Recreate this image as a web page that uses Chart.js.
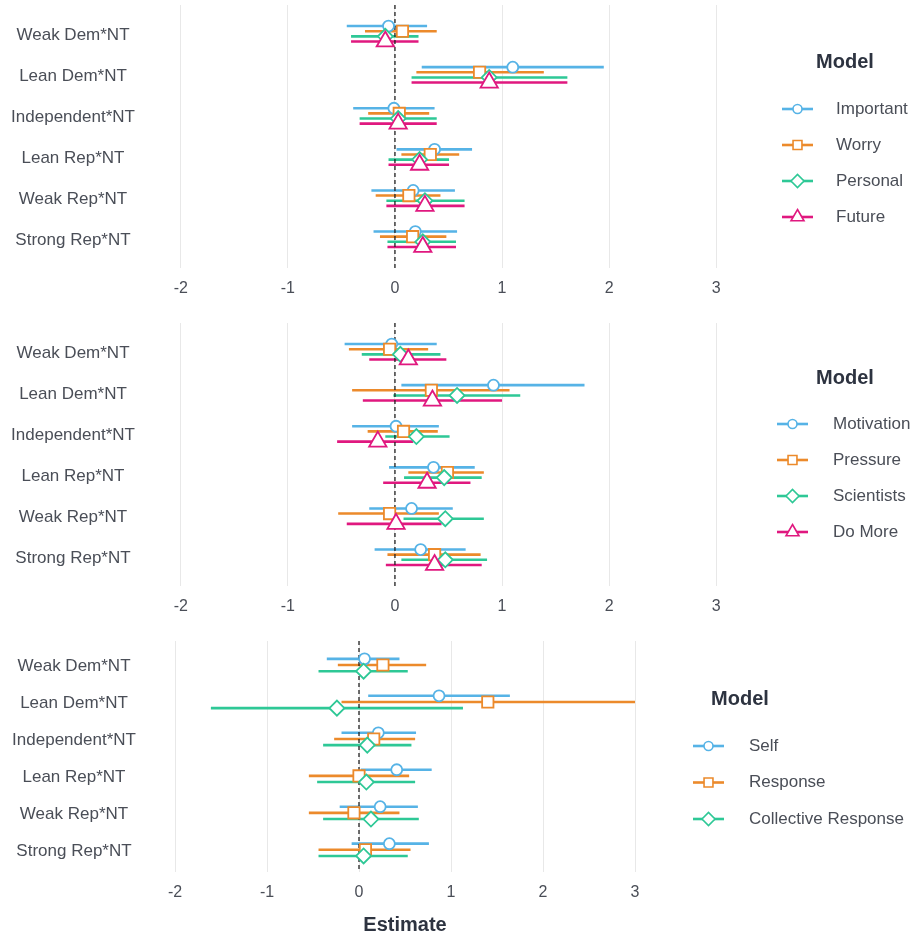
<!DOCTYPE html>
<html>
<head>
<meta charset="utf-8">
<title>Interaction estimates</title>
<script src="https://cdn.jsdelivr.net/npm/chart.js@4.4.1/dist/chart.umd.min.js"></script>
<style>
  body { margin: 0; background: #fff; }
  canvas { position: absolute; left: 0; }
</style>
</head>
<body>
<canvas id="panel1" width="912" height="310" style="top:0px"></canvas>
<canvas id="panel2" width="912" height="310" style="top:318px"></canvas>
<canvas id="panel3" width="912" height="305" style="top:632px"></canvas>
<script>
const rowLabels = ['Weak Dem*NT', 'Lean Dem*NT', 'Independent*NT', 'Lean Rep*NT', 'Weak Rep*NT', 'Strong Rep*NT'];
const xTicks = [-2, -1, 0, 1, 2, 3];

// each row: [estimate, lower, upper]
const important = [[-0.06, -0.45, 0.30], [1.10, 0.25, 1.95], [-0.01, -0.39, 0.37], [0.37, 0.015, 0.72], [0.17, -0.22, 0.56], [0.19, -0.20, 0.58]];
const worry = [[0.07, -0.28, 0.39], [0.79, 0.20, 1.39], [0.04, -0.25, 0.32], [0.33, 0.06, 0.60], [0.13, -0.18, 0.425], [0.165, -0.14, 0.48]];
const personal = [[-0.09, -0.41, 0.22], [0.88, 0.155, 1.61], [0.03, -0.33, 0.39], [0.23, -0.06, 0.505], [0.28, -0.08, 0.65], [0.26, -0.07, 0.57]];
const future = [[-0.09, -0.41, 0.22], [0.88, 0.155, 1.61], [0.03, -0.33, 0.39], [0.23, -0.06, 0.505], [0.28, -0.08, 0.65], [0.26, -0.07, 0.57]];

const motivation = [[-0.03, -0.47, 0.39], [0.92, 0.06, 1.77], [0.01, -0.40, 0.41], [0.36, -0.055, 0.745], [0.155, -0.24, 0.54], [0.24, -0.19, 0.66]];
const pressure = [[-0.05, -0.43, 0.31], [0.34, -0.40, 1.07], [0.08, -0.255, 0.40], [0.49, 0.125, 0.83], [-0.05, -0.53, 0.41], [0.37, -0.07, 0.80]];
const scientists = [[0.05, -0.31, 0.425], [0.58, -0.015, 1.17], [0.20, -0.09, 0.51], [0.46, 0.085, 0.81], [0.47, 0.08, 0.83], [0.47, 0.06, 0.86]];
const doMore = [[0.125, -0.24, 0.48], [0.35, -0.30, 1.00], [-0.16, -0.54, 0.17], [0.30, -0.11, 0.705], [0.01, -0.45, 0.435], [0.37, -0.085, 0.81]];

const self = [[0.06, -0.35, 0.44], [0.87, 0.10, 1.64], [0.21, -0.19, 0.62], [0.41, 0.02, 0.79], [0.23, -0.21, 0.64], [0.33, -0.08, 0.76]];
const response = [[0.26, -0.23, 0.73], [1.40, -0.19, 3.00], [0.16, -0.27, 0.61], [0.00, -0.545, 0.545], [-0.055, -0.545, 0.44], [0.07, -0.44, 0.56]];
const collective = [[0.05, -0.44, 0.53], [-0.24, -1.61, 1.13], [0.09, -0.39, 0.57], [0.08, -0.455, 0.61], [0.13, -0.39, 0.65], [0.05, -0.44, 0.53]];

const BLUE = '#56B3E6', ORANGE = '#EC8A2B', GREEN = '#2EC896', PINK = '#E0187F';
const FONT = '"Liberation Sans", Arial, sans-serif';
const TEXT = '#4a4e57';
const TITLE = '#2d3340';

const markerRadius = { circle: 5.5, rect: 8, rectRot: 7.5, triangle: 10 };
const legendRadius = { circle: 4.5, rect: 6.3, rectRot: 6.5, triangle: 7.5 };

// draws the "Model" key: short line with the marker in the middle
const modelLegend = {
  id: 'modelLegend',
  afterDraw(chart, args, opts) {
    const ctx = chart.ctx;
    const items = chart.data.datasets.filter(d => d.isMarker);
    ctx.save();
    ctx.fillStyle = TITLE;
    ctx.font = 'bold 20px ' + FONT;
    ctx.textAlign = 'center';
    ctx.textBaseline = 'middle';
    ctx.fillText('Model', opts.titleX, opts.titleY);
    items.forEach((d, i) => {
      const y = opts.top + i * opts.step;
      ctx.strokeStyle = d.pointBorderColor;
      ctx.lineWidth = 2.6;
      ctx.beginPath();
      ctx.moveTo(opts.lineX, y);
      ctx.lineTo(opts.lineX + 31, y);
      ctx.stroke();
      ctx.fillStyle = '#fff';
      ctx.lineWidth = 1.6;
      Chart.helpers.drawPoint(ctx, { pointStyle: d.pointStyle, radius: legendRadius[d.pointStyle], borderWidth: 1.6, rotation: 0 }, opts.lineX + 15.5, y);
      ctx.fillStyle = TEXT;
      ctx.font = '17px ' + FONT;
      ctx.textAlign = 'left';
      ctx.fillText(d.label, opts.textX, y);
    });
    ctx.restore();
  }
};

function labelWidth() {
  const ctx = document.createElement('canvas').getContext('2d');
  ctx.font = '17px ' + FONT;
  return Math.max(...rowLabels.map(l => ctx.measureText(l).width));
}

function makePanel(id, series, cfg) {
  const n = series.length;
  const datasets = [];
  series.forEach((s, i) => {
    const off = (i - (n - 1) / 2) * 0.5 / n;
    const segs = [];
    s.rows.forEach((r, k) => {
      segs.push({ x: r[1], y: k + 1 + off }, { x: r[2], y: k + 1 + off }, { x: null, y: null });
    });
    datasets.push({
      label: s.label + ' CI', data: segs, showLine: true, spanGaps: false,
      borderColor: s.color, borderWidth: 2.6, pointRadius: 0, order: 30
    });
    datasets.push({
      label: s.label, isMarker: true,
      data: s.rows.map((r, k) => ({ x: r[0], y: k + 1 + off })),
      showLine: false, pointStyle: s.shape, pointRadius: markerRadius[s.shape],
      pointBackgroundColor: '#fff', pointBorderColor: s.color, pointBorderWidth: 1.8,
      order: 10 - i
    });
  });
  datasets.push({
    label: 'zero', data: [{ x: 0, y: cfg.yMin }, { x: 0, y: cfg.yMax }], showLine: true,
    borderColor: '#222', borderWidth: 1.3, borderDash: [4, 3], pointRadius: 0, order: 20
  });

  const pad = cfg.left - cfg.labelCenter - labelWidth() / 2;

  return new Chart(document.getElementById(id), {
    type: 'scatter',
    data: { datasets },
    plugins: [modelLegend],
    options: {
      responsive: false,
      animation: false,
      events: [],
      layout: { autoPadding: false, padding: { top: cfg.top, right: 912 - cfg.right, left: 0, bottom: 0 } },
      plugins: {
        legend: { display: false },
        tooltip: { enabled: false },
        modelLegend: cfg.legend
      },
      scales: {
        x: {
          type: 'linear', min: -2.25, max: 3.25,
          afterBuildTicks: s => { s.ticks = xTicks.map(v => ({ value: v })); },
          afterFit: s => { s.height = cfg.xHeight; },
          grid: { color: '#e8e8e8', lineWidth: 1, drawTicks: false },
          border: { display: false },
          ticks: { font: { size: 16, family: FONT }, color: TEXT, padding: 11 },
          title: cfg.xTitle ? {
            display: true, text: cfg.xTitle, color: TITLE,
            font: { size: 20, weight: 'bold', family: FONT }, padding: { top: 0, bottom: 0 }
          } : { display: false }
        },
        y: {
          type: 'linear', reverse: true, min: cfg.yMin, max: cfg.yMax,
          afterBuildTicks: s => { s.ticks = rowLabels.map((l, k) => ({ value: k + 1 })); },
          afterFit: s => {
            // the label padding only centres the text; keep it off the plot's top edge
            s.width = cfg.left;
            s.paddingTop = 0;
            s.paddingBottom = 0;
          },
          grid: { display: false, drawTicks: false },
          border: { display: false },
          ticks: {
            callback: v => rowLabels[Math.round(v) - 1],
            crossAlign: 'center', padding: pad, autoSkip: false, labelOffset: 1.5,
            font: { size: 17, family: FONT }, color: TEXT
          }
        }
      }
    }
  });
}

makePanel('panel1', [
  { label: 'Important', rows: important, color: BLUE, shape: 'circle' },
  { label: 'Worry', rows: worry, color: ORANGE, shape: 'rect' },
  { label: 'Personal', rows: personal, color: GREEN, shape: 'rectRot' },
  { label: 'Future', rows: future, color: PINK, shape: 'triangle' }
], {
  left: 154, right: 743, top: 5, xHeight: 42, yMin: 0.3, yMax: 6.7, labelCenter: 73,
  legend: { titleX: 845, titleY: 62, lineX: 782, textX: 836, top: 109, step: 36 }
});

makePanel('panel2', [
  { label: 'Motivation', rows: motivation, color: BLUE, shape: 'circle' },
  { label: 'Pressure', rows: pressure, color: ORANGE, shape: 'rect' },
  { label: 'Scientists', rows: scientists, color: GREEN, shape: 'rectRot' },
  { label: 'Do More', rows: doMore, color: PINK, shape: 'triangle' }
], {
  left: 154, right: 743, top: 5, xHeight: 42, yMin: 0.3, yMax: 6.7, labelCenter: 73,
  legend: { titleX: 845, titleY: 60, lineX: 777, textX: 833, top: 106, step: 36 }
});

makePanel('panel3', [
  { label: 'Self', rows: self, color: BLUE, shape: 'circle' },
  { label: 'Response', rows: response, color: ORANGE, shape: 'rect' },
  { label: 'Collective Response', rows: collective, color: GREEN, shape: 'rectRot' }
], {
  left: 152, right: 658, top: 9, xHeight: 65, yMin: 0.35, yMax: 6.6, labelCenter: 74, xTitle: 'Estimate',
  legend: { titleX: 740, titleY: 67, lineX: 693, textX: 749, top: 114, step: 36.5 }
});
</script>
</body>
</html>
